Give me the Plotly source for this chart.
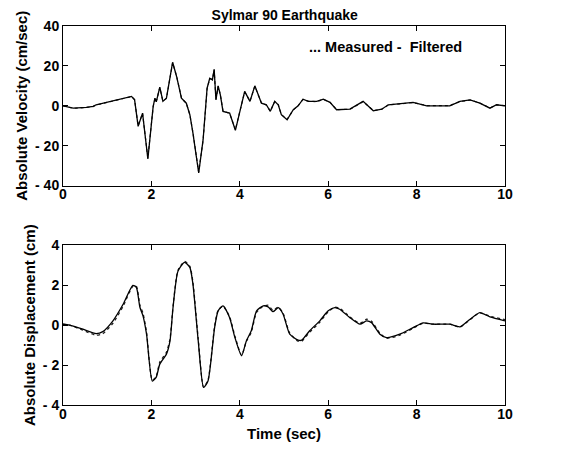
import plotly.graph_objects as go
from plotly.subplots import make_subplots

# ---- Velocity (top) ----
vel_t = [0, 0.07, 0.23, 0.53, 0.68, 0.75, 1.06, 1.36, 1.55, 1.62, 1.70, 1.80, 1.92, 2.04, 2.08,
         2.11, 2.19, 2.26, 2.34, 2.48, 2.57, 2.68, 2.79, 2.87, 2.94, 3.07, 3.17, 3.26, 3.32, 3.38,
         3.42, 3.46, 3.51, 3.56, 3.62, 3.77, 3.90, 4.11, 4.23, 4.34, 4.49, 4.60, 4.69, 4.79, 4.87,
         4.94, 5.07, 5.21, 5.32, 5.43, 5.55, 5.74, 5.89, 6.04, 6.19, 6.49, 6.79, 7.02, 7.21, 7.36,
         7.62, 7.92, 8.23, 8.53, 8.75, 8.98, 9.21, 9.43, 9.66, 9.81, 10.0]
vel_filtered = [0, -0.3, -1.2, -0.8, -0.3, 0.5, 2.2, 3.5, 4.7, 3.0, -10.3, -3.7, -26.7, -0.3, 3.8,
                2.0, 9.3, 2.2, 3.8, 21.8, 14.7, 3.8, 1.3, -4.5, -13.7, -33.7, -17.0, 8.8, 13.8, 13.0,
                18.3, 3.0, 10.0, 5.5, -2.8, -3.7, -12.3, 7.2, 2.2, 10.0, 1.3, 0.5, -2.8, 2.2, 0.5,
                -4.5, -7.0, -2.0, 0.0, 3.3, 2.2, 2.2, 3.3, 1.7, -2.0, -1.7, 2.2, -2.5, -1.7, 0.5,
                1.0, 1.7, 0.0, 0.0, 0.0, 2.2, 3.0, 1.3, -1.2, 0.5, 0.0]
vel_measured = [0, -0.4, -1.3, -0.8, -0.4, 0.4, 2.1, 3.4, 4.6, 3.1, -10.0, -3.8, -26.2, -0.5, 3.6,
                2.1, 9.1, 2.4, 3.7, 21.5, 14.9, 3.9, 1.2, -4.4, -13.5, -33.2, -17.2, 8.5, 13.6, 13.2,
                18.0, 3.2, 9.8, 5.6, -2.7, -3.8, -12.0, 7.0, 2.3, 9.8, 1.4, 0.4, -2.7, 2.1, 0.6,
                -4.4, -6.8, -2.1, 0.1, 3.2, 2.3, 2.1, 3.2, 1.8, -1.9, -1.8, 2.1, -2.4, -1.8, 0.4,
                1.1, 1.6, 0.1, -0.1, 0.1, 2.1, 2.9, 1.4, -1.1, 0.4, 0.1]

# ---- Displacement (bottom) ----
dis_t = [0, 0.15, 0.45, 0.75, 0.90, 1.13, 1.36, 1.58, 1.66, 1.74, 1.81, 1.89, 2.02, 2.11, 2.19,
         2.34, 2.42, 2.49, 2.60, 2.75, 2.87, 2.94, 3.06, 3.18, 3.28, 3.43, 3.51, 3.62, 3.77, 3.89,
         4.04, 4.15, 4.26, 4.38, 4.53, 4.64, 4.75, 4.87, 4.98, 5.13, 5.32, 5.40, 5.58, 5.81, 6.00,
         6.15, 6.26, 6.49, 6.72, 6.87, 6.98, 7.17, 7.32, 7.62, 7.92, 8.15, 8.38, 8.75, 8.98, 9.21,
         9.43, 9.66, 10.0]
dis_filtered = [0.05, 0.0, -0.2, -0.42, -0.32, 0.22, 1.05, 2.0, 1.9, 0.9, 0.47, -0.45, -2.8, -2.6, -1.95,
                -1.45, -0.8, 0.9, 2.7, 3.15, 2.9, 2.05, -0.8, -3.12, -2.8, -0.12, 0.72, 0.97, 0.38, -0.62,
                -1.53, -0.78, -0.28, 0.72, 0.97, 0.92, 0.68, 0.88, 0.55, -0.45, -0.75, -0.75, -0.28, 0.22, 0.72,
                0.88, 0.8, 0.38, 0.05, 0.22, 0.13, -0.45, -0.62, -0.45, -0.12, 0.12, 0.05, 0.05, -0.08, 0.3,
                0.63, 0.42, 0.22]
dis_measured = [0.05, 0.0, -0.25, -0.5, -0.42, 0.1, 0.95, 1.95, 1.95, 1.0, 0.6, -0.35, -2.75, -2.55, -1.85,
                -1.35, -0.7, 0.95, 2.75, 3.2, 2.95, 2.15, -0.7, -3.1, -2.75, -0.05, 0.75, 0.95, 0.42, -0.55,
                -1.5, -0.8, -0.35, 0.65, 0.95, 1.0, 0.75, 0.9, 0.6, -0.4, -0.8, -0.8, -0.35, 0.15, 0.68,
                0.9, 0.85, 0.42, 0.1, 0.3, 0.2, -0.4, -0.65, -0.5, -0.15, 0.1, 0.05, 0.05, -0.1, 0.28,
                0.62, 0.45, 0.28]

x_ticks = [0, 2, 4, 6, 8, 10]
vel_ticks = [-40, -20, 0, 20, 40]
vel_ticktext = ["- 40", "- 20", "0", "20", "40"]
dis_ticks = [-4, -2, 0, 2, 4]
dis_ticktext = ["- 4", "- 2", "0", "2", "4"]

fig = make_subplots(rows=2, cols=1, vertical_spacing=0.158)

fig.add_trace(go.Scatter(x=vel_t, y=vel_measured, mode="lines",
                         line=dict(color="#222222", width=1.2, dash="dot")), row=1, col=1)
fig.add_trace(go.Scatter(x=vel_t, y=vel_filtered, mode="lines",
                         line=dict(color="black", width=1.3)), row=1, col=1)
fig.add_trace(go.Scatter(x=dis_t, y=dis_measured, mode="lines",
                         line=dict(color="#222222", width=1.3, dash="dot", shape="spline", smoothing=0.6)),
              row=2, col=1)
fig.add_trace(go.Scatter(x=dis_t, y=dis_filtered, mode="lines",
                         line=dict(color="black", width=1.3, shape="spline", smoothing=0.6)),
              row=2, col=1)

tick_font = dict(family="Arial, Liberation Sans", size=14, color="black", weight="bold")
title_font = dict(family="Arial, Liberation Sans", size=15, color="black", weight="bold")
axis_common = dict(showline=True, linecolor="black", linewidth=1, mirror="ticks",
                   ticks="inside", ticklen=5, tickcolor="black", showgrid=False,
                   zeroline=False, tickfont=tick_font)

fig.update_xaxes(range=[0, 10], tickvals=x_ticks, ticklabelstandoff=-4, **axis_common)
fig.update_yaxes(**axis_common)
fig.update_yaxes(range=[-40, 40], tickvals=vel_ticks, ticktext=vel_ticktext,
                 title=dict(text="Absolute Velocity (cm/sec)", font=title_font, standoff=3),
                 row=1, col=1)
fig.update_yaxes(range=[-4, 4], tickvals=dis_ticks, ticktext=dis_ticktext,
                 title=dict(text="Absolute Displacement (cm)", font=title_font, standoff=3),
                 row=2, col=1)
fig.update_xaxes(title=dict(text="Time (sec)", font=title_font, standoff=7), row=2, col=1)

fig.add_annotation(text="... Measured -  Filtered", xref="paper", yref="paper",
                   x=0.73, y=0.944, xanchor="center", yanchor="middle", showarrow=False,
                   font=dict(family="Arial, Liberation Sans", size=14.5, color="black", weight="bold"))

fig.update_layout(
    width=566, height=451,
    margin=dict(l=63, r=61, t=26, b=46),
    title=dict(text="Sylmar 90 Earthquake", x=0.503, xanchor="center", y=0.967,
               yanchor="middle",
               font=dict(family="Arial, Liberation Sans", size=14, color="black", weight="bold")),
    showlegend=False,
    plot_bgcolor="white", paper_bgcolor="white",
)

fig.write_html("out.html")
